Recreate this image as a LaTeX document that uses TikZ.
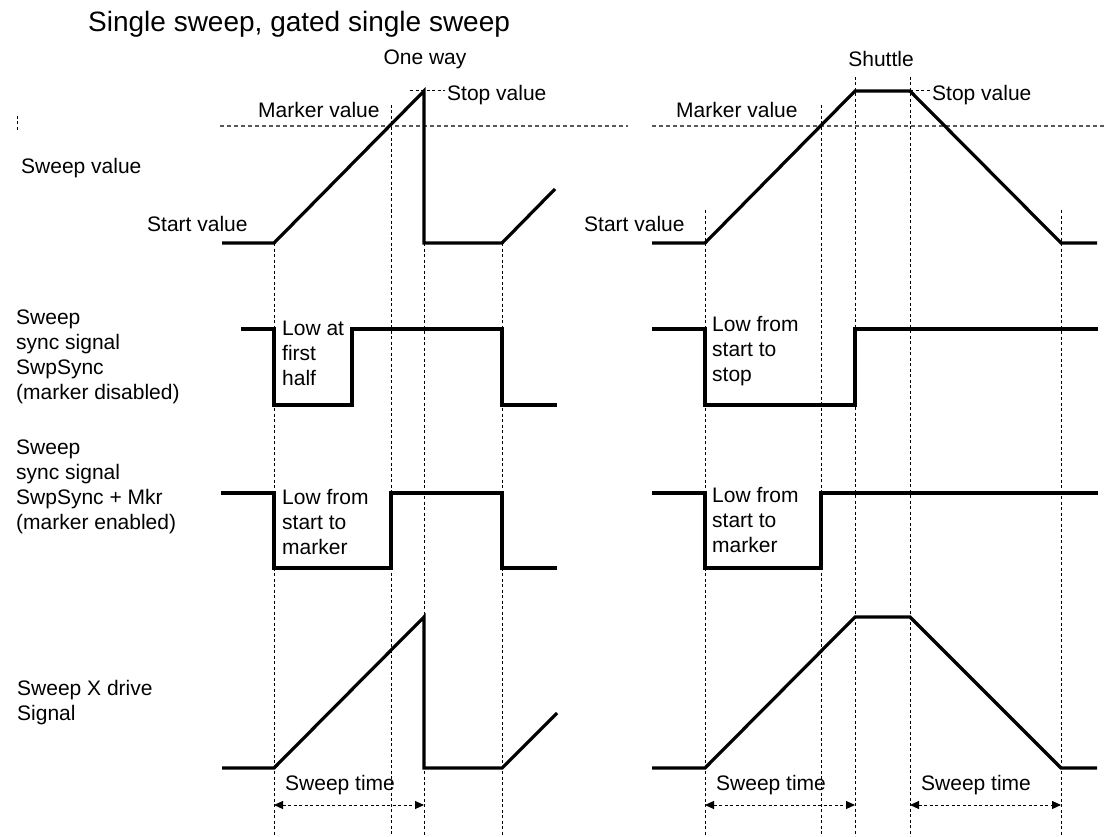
\documentclass[tikz,border=0pt]{standalone}
\usepackage{fontspec}
\setmainfont{Liberation Sans}
\usetikzlibrary{arrows.meta}
\tikzset{
    sig/.style={line width=3.2pt, line join=miter},
    guide/.style={line width=1pt, dash pattern=on 3pt off 2.5pt},
    level/.style={line width=1.3pt, gray!70!black, dash pattern=on 4pt off 3pt},
    lbl/.style={font=\fontsize{21}{25}\selectfont, inner sep=0pt, align=left, anchor=west},
    span/.style={guide, {Triangle[length=9pt,width=8pt]}-{Triangle[length=9pt,width=8pt]}}
}

\begin{document}
\begin{tikzpicture}[x=1pt,y=-1pt]
    \useasboundingbox (0,0) rectangle (1105,837);

    % Titles
    \node[lbl, font=\fontsize{28}{32}\selectfont] (title) at (88,24) {Single sweep, gated single sweep};
    \node[lbl, anchor=center] (oneway) at (425,59) {One way};
    \node[lbl, anchor=center] (shuttle) at (881,59) {Shuttle};

    % Vertical time guides
    \foreach \x/\top in {274/243, 391/105, 424/243, 502/243, 705/210, 821/105, 855/77, 910/77, 1061/210} {
        \draw[guide] (\x,\top) -- (\x,836);
    }
    \draw[guide] (17,116) -- (17,130);

    % Marker and stop levels
    \draw[level] (220,126) -- (628,126);
    \draw[level] (652,126) -- (1105,126);
    \draw[guide] (410,91) -- (445,91);
    \draw[guide] (910,91) -- (930,91);

    % Sweep value
    \draw[sig] (222,243) -- (274,243) -- (424,91) -- (424,243) -- (502,243) -- (555,189);
    \draw[sig] (652,243) -- (705,243) -- (855,91) -- (910,91) -- (1061,243) -- (1097,243);

    % Sync signal, marker disabled
    \draw[sig] (241,329) -- (274,329) -- (274,405) -- (352,405) -- (352,329) -- (502,329) -- (502,405) -- (557,405);
    \draw[sig] (652,329) -- (705,329) -- (705,405) -- (855,405) -- (855,329) -- (1098,329);

    % Sync signal, marker enabled
    \draw[sig] (221,493) -- (274,493) -- (274,568) -- (391,568) -- (391,493) -- (502,493) -- (502,568) -- (557,568);
    \draw[sig] (652,493) -- (705,493) -- (705,568) -- (821,568) -- (821,493) -- (1098,493);

    % X drive signal
    \draw[sig] (222,768) -- (274,768) -- (424,617) -- (424,768) -- (502,768) -- (557,713);
    \draw[sig] (652,768) -- (705,768) -- (855,617) -- (910,617) -- (1061,768) -- (1097,768);

    % Level labels
    \node[lbl] (stopL) at (447,95) {Stop value};
    \node[lbl] (stopR) at (932,95) {Stop value};
    \node[lbl] (mkrL) at (258,110) {Marker value};
    \node[lbl] (mkrR) at (676,110) {Marker value};
    \node[lbl] (startL) at (147,224) {Start value};
    \node[lbl] (startR) at (584,224) {Start value};

    % Row labels
    \node[lbl] (rowval) at (21,168) {Sweep value};
    \node[lbl] (rowsync) at (16,357) {Sweep\\sync signal\\SwpSync\\(marker disabled)};
    \node[lbl] (rowmkr) at (16,487) {Sweep\\sync signal\\SwpSync + Mkr\\(marker enabled)};
    \node[lbl] (rowdrv) at (17,703) {Sweep X drive\\Signal};

    % Pulse notes
    \node[lbl] (half) at (282,353) {Low at\\first\\half};
    \node[lbl] (tostop) at (712,351) {Low from\\start to\\stop};
    \node[lbl] (tomkrL) at (282,522) {Low from\\start to\\marker};
    \node[lbl] (tomkrR) at (712,520) {Low from\\start to\\marker};

    % Sweep time spans
    \foreach \a/\b/\n in {274/424/swL, 705/855/swR, 910/1061/swD} {
        \draw[span] (\a,805) -- (\b,805);
        \node[lbl] (\n) at (\a+11,785) {Sweep time};
    }
\end{tikzpicture}
\end{document}
